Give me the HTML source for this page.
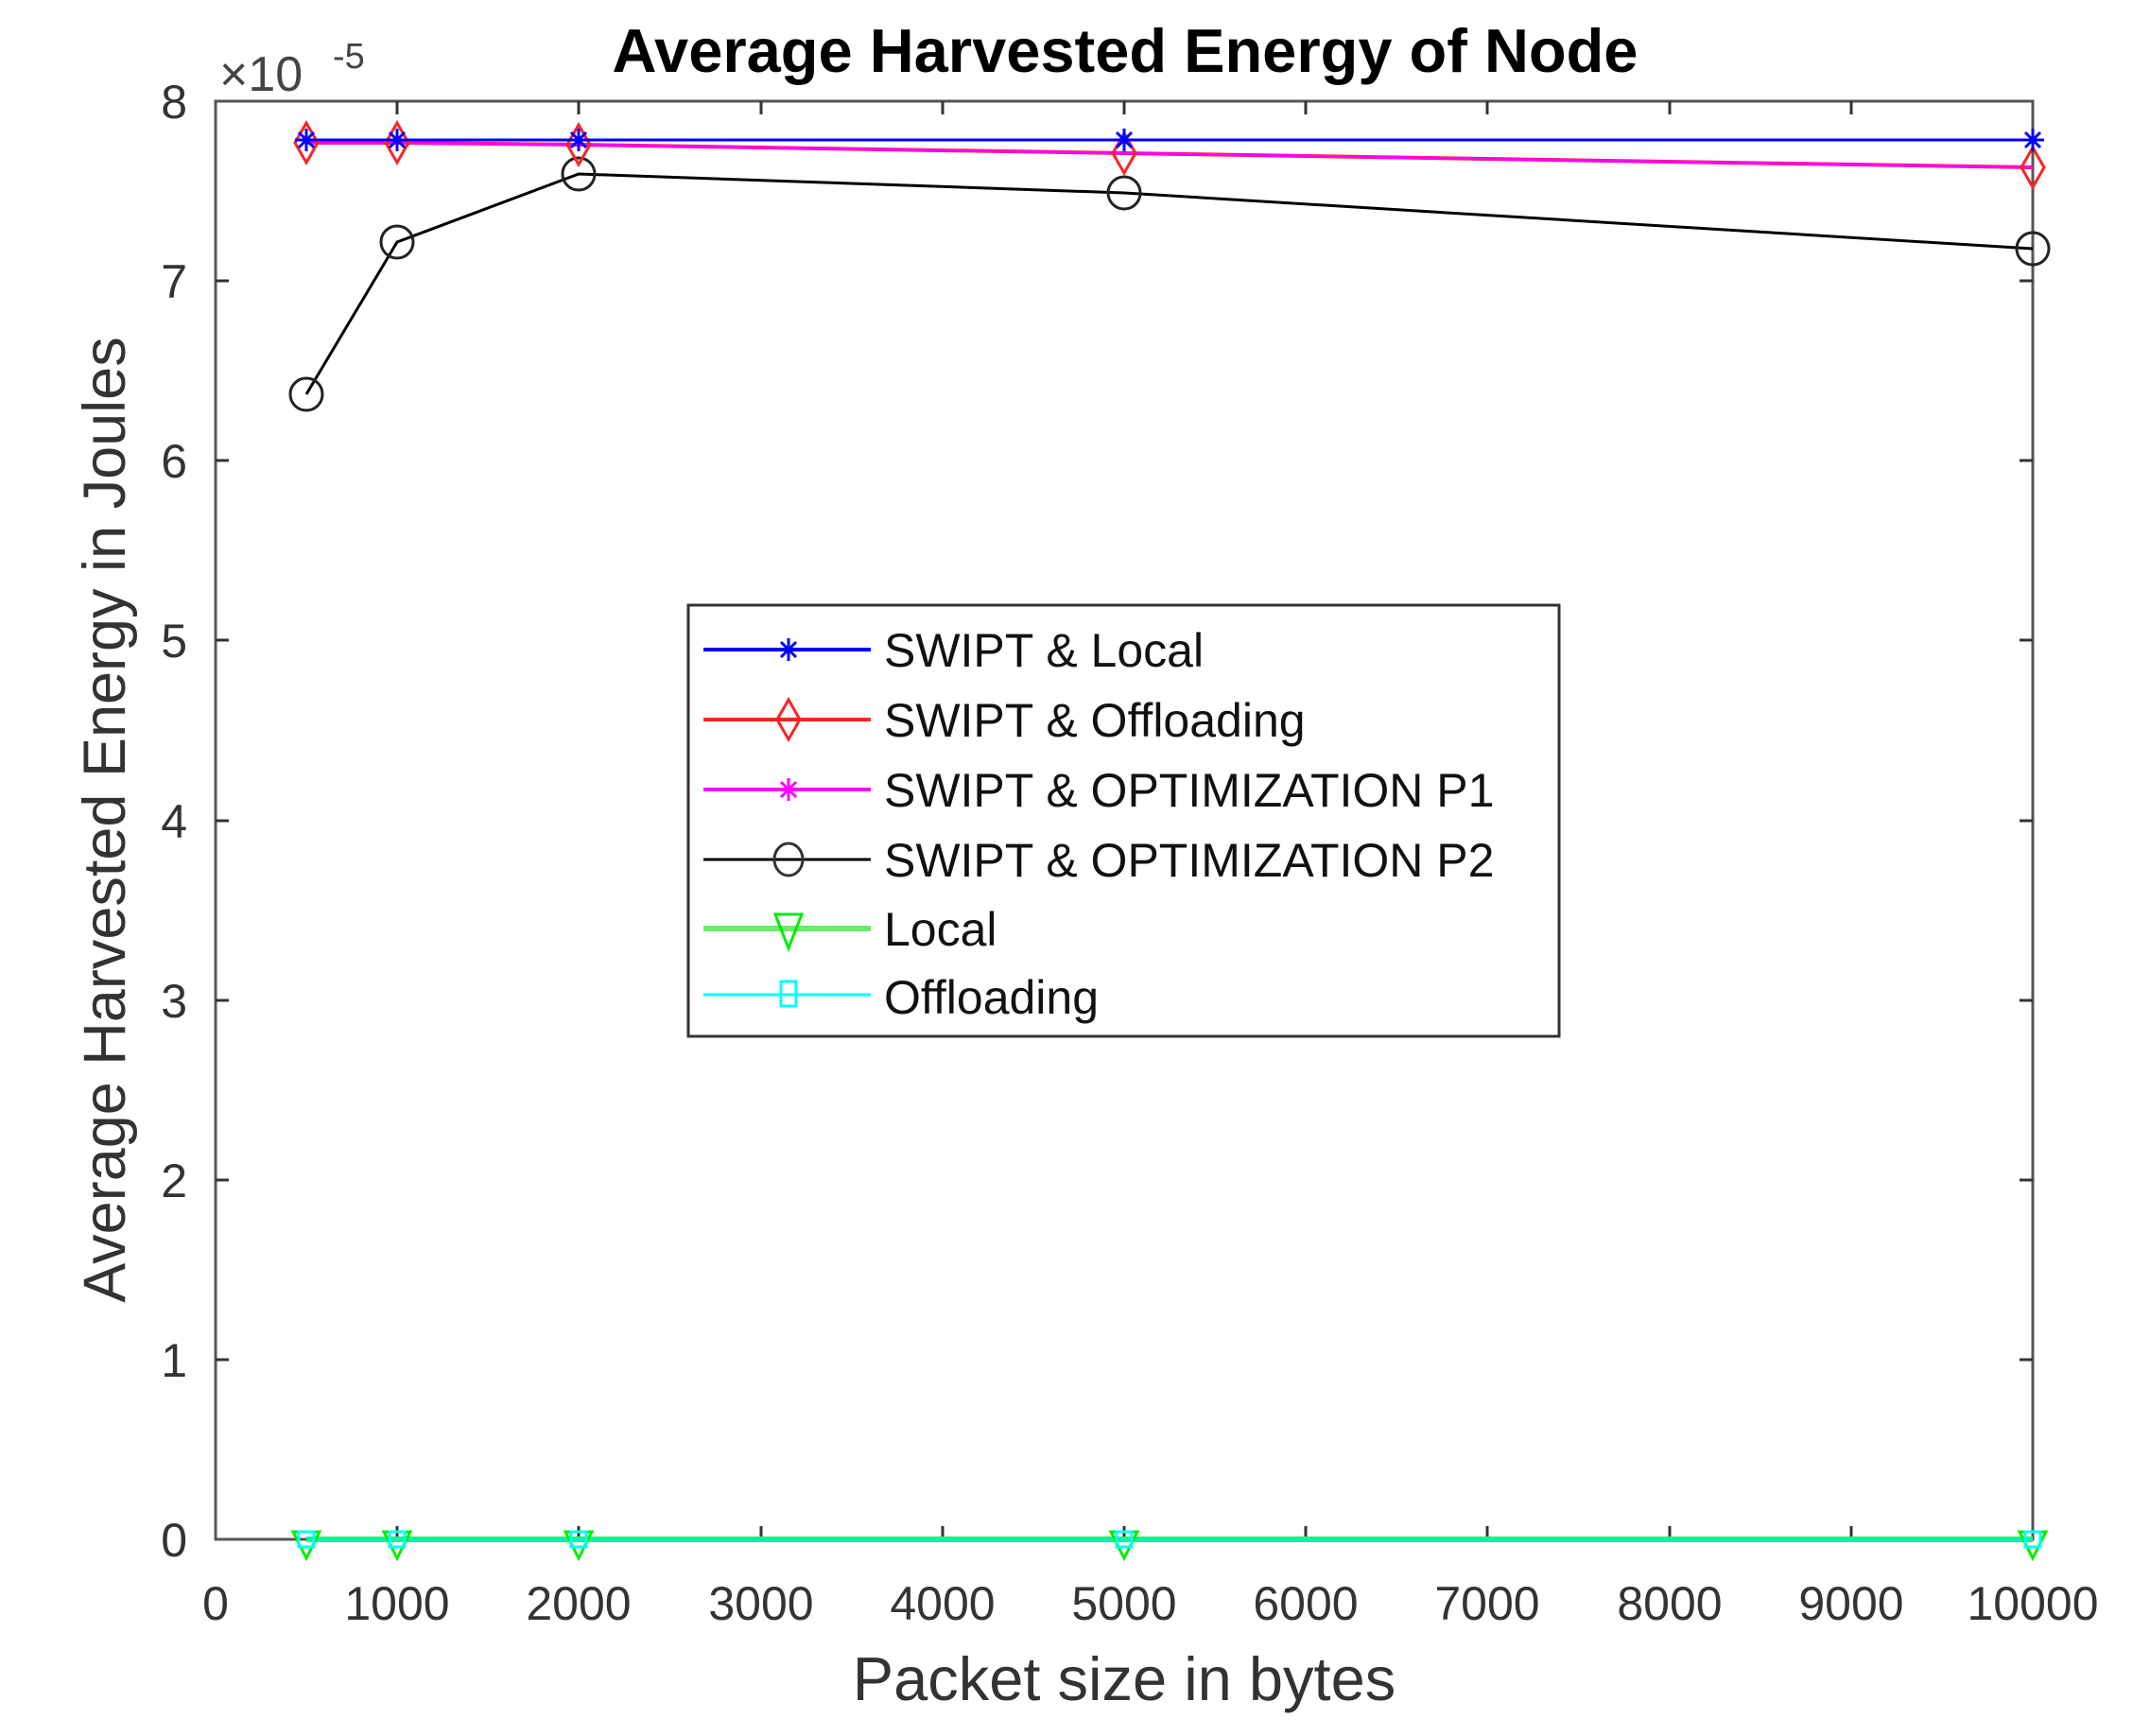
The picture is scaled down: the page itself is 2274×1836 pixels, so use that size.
<!DOCTYPE html>
<html><head><style>html,body{margin:0;padding:0;background:#fff}svg{display:block}</style></head>
<body>
<svg width="2274" height="1836" xmlns="http://www.w3.org/2000/svg" font-family="Liberation Sans, Arial, sans-serif">
<rect width="2274" height="1836" fill="#fff"/>
<text x="1190" y="76" font-size="65" font-weight="bold" text-anchor="middle" fill="#000">Average Harvested Energy of Node</text>
<text x="232" y="96" font-size="52" fill="#444">×10</text>
<text x="352" y="72" font-size="38" fill="#444">-5</text>
<rect x="228" y="107" width="1922" height="1521" fill="none" stroke="#555" stroke-width="3"/>
<g stroke="#333" stroke-width="3">
<line x1="420" y1="1628" x2="420" y2="1614"/><line x1="612" y1="1628" x2="612" y2="1614"/><line x1="805" y1="1628" x2="805" y2="1614"/><line x1="997" y1="1628" x2="997" y2="1614"/><line x1="1189" y1="1628" x2="1189" y2="1614"/><line x1="1381" y1="1628" x2="1381" y2="1614"/><line x1="1573" y1="1628" x2="1573" y2="1614"/><line x1="1766" y1="1628" x2="1766" y2="1614"/><line x1="1958" y1="1628" x2="1958" y2="1614"/>
<line x1="420" y1="107" x2="420" y2="121"/><line x1="612" y1="107" x2="612" y2="121"/><line x1="805" y1="107" x2="805" y2="121"/><line x1="997" y1="107" x2="997" y2="121"/><line x1="1189" y1="107" x2="1189" y2="121"/><line x1="1381" y1="107" x2="1381" y2="121"/><line x1="1573" y1="107" x2="1573" y2="121"/><line x1="1766" y1="107" x2="1766" y2="121"/><line x1="1958" y1="107" x2="1958" y2="121"/>
<line x1="228" y1="1438" x2="242" y2="1438"/><line x1="228" y1="1248" x2="242" y2="1248"/><line x1="228" y1="1058" x2="242" y2="1058"/><line x1="228" y1="868" x2="242" y2="868"/><line x1="228" y1="677" x2="242" y2="677"/><line x1="228" y1="487" x2="242" y2="487"/><line x1="228" y1="297" x2="242" y2="297"/>
<line x1="2150" y1="1438" x2="2136" y2="1438"/><line x1="2150" y1="1248" x2="2136" y2="1248"/><line x1="2150" y1="1058" x2="2136" y2="1058"/><line x1="2150" y1="868" x2="2136" y2="868"/><line x1="2150" y1="677" x2="2136" y2="677"/><line x1="2150" y1="487" x2="2136" y2="487"/><line x1="2150" y1="297" x2="2136" y2="297"/>
</g>
<g font-size="50" fill="#333" text-anchor="middle">
<text x="228" y="1713">0</text><text x="420" y="1713">1000</text><text x="612" y="1713">2000</text><text x="805" y="1713">3000</text><text x="997" y="1713">4000</text><text x="1189" y="1713">5000</text><text x="1381" y="1713">6000</text><text x="1573" y="1713">7000</text><text x="1766" y="1713">8000</text><text x="1958" y="1713">9000</text><text x="2150" y="1713">10000</text>
</g>
<g font-size="50" fill="#333" text-anchor="end">
<text x="198" y="1646">0</text><text x="198" y="1456">1</text><text x="198" y="1266">2</text><text x="198" y="1076">3</text><text x="198" y="886">4</text><text x="198" y="695">5</text><text x="198" y="505">6</text><text x="198" y="315">7</text><text x="198" y="125">8</text>
</g>
<text x="1189" y="1798" font-size="65" fill="#333" text-anchor="middle">Packet size in bytes</text>
<text transform="translate(132,867) rotate(-90)" font-size="63" fill="#333" text-anchor="middle">Average Harvested Energy in Joules</text>
<polyline points="324,1628 420,1628 612,1628 1189,1628 2150,1628" stroke="#33ee66" stroke-width="6" fill="none"/>
<polyline points="324,1628 420,1628 612,1628 1189,1628 2150,1628" stroke="#00eecc" stroke-width="3" fill="none"/>
<g fill="none" stroke="#00ee00" stroke-width="3">
<path d="M310,1620 L338,1620 L324,1648 Z"/><path d="M406,1620 L434,1620 L420,1648 Z"/><path d="M598,1620 L626,1620 L612,1648 Z"/><path d="M1175,1620 L1203,1620 L1189,1648 Z"/><path d="M2136,1620 L2164,1620 L2150,1648 Z"/>
</g>
<g fill="none" stroke="#00ffff" stroke-width="3">
<rect x="316" y="1620" width="16" height="16"/><rect x="412" y="1620" width="16" height="16"/><rect x="604" y="1620" width="16" height="16"/><rect x="1181" y="1620" width="16" height="16"/><rect x="2142" y="1620" width="16" height="16"/>
</g>
<polyline points="324,417 420,256 612,184 1189,204 2150,263" stroke="#000" stroke-width="3" fill="none"/>
<g fill="none" stroke="#222" stroke-width="3">
<ellipse cx="324" cy="417" rx="17" ry="17"/><ellipse cx="420" cy="256" rx="17" ry="17"/><ellipse cx="612" cy="184" rx="17" ry="17"/><ellipse cx="1189" cy="204" rx="17" ry="17"/><ellipse cx="2150" cy="263" rx="17" ry="17"/>
</g>
<polyline points="324,151 420,151 612,153 1189,162 2150,177" stroke="#ff2222" stroke-width="4" fill="none"/>
<polyline points="324,151 420,151 612,153 1189,162 2150,177" stroke="#ff00ff" stroke-width="3" fill="none"/>
<polyline points="324,148 420,148 612,148 1189,148 2150,148" stroke="#0000ff" stroke-width="3" fill="none"/>
<g fill="none" stroke="#ff2222" stroke-width="3">
<path d="M324,130 L336,151 L324,172 L312,151 Z"/><path d="M420,130 L432,151 L420,172 L408,151 Z"/><path d="M612,132 L624,153 L612,174 L600,153 Z"/><path d="M1189,141 L1201,162 L1189,183 L1177,162 Z"/><path d="M2150,156 L2162,177 L2150,198 L2138,177 Z"/>
</g>
<g stroke="#0000ff" stroke-width="3">
<path d="M312,148h24M324,136v24M316,140l16,16M332,140l-16,16"/><path d="M408,148h24M420,136v24M412,140l16,16M428,140l-16,16"/><path d="M600,148h24M612,136v24M604,140l16,16M620,140l-16,16"/><path d="M1177,148h24M1189,136v24M1181,140l16,16M1197,140l-16,16"/><path d="M2138,148h24M2150,136v24M2142,140l16,16M2158,140l-16,16"/>
</g>
<rect x="728" y="640" width="921" height="456" fill="#fff" stroke="#333" stroke-width="3"/>
<g stroke-width="4" fill="none">
<line x1="744" y1="687" x2="921" y2="687" stroke="#0000ff"/>
<path d="M822,687h24M834,675v24M826,679l16,16M842,679l-16,16" stroke="#0000ff" stroke-width="3"/>
<line x1="744" y1="761" x2="921" y2="761" stroke="#ff2222"/>
<path d="M834,740 L846,761 L834,782 L822,761 Z" stroke="#ff2222" stroke-width="3"/>
<line x1="744" y1="835" x2="921" y2="835" stroke="#ff00ff"/>
<path d="M826,827l16,16M842,827l-16,16M834,823v24" stroke="#ff00ff" stroke-width="3"/>
<line x1="744" y1="909" x2="921" y2="909" stroke="#000" stroke-width="3"/>
<ellipse cx="834" cy="909" rx="15" ry="17" stroke="#333" stroke-width="3"/>
<line x1="744" y1="982" x2="921" y2="982" stroke="#66ee66" stroke-width="6"/>
<path d="M820,967 L848,967 L834,1003 Z" stroke="#00ee00" stroke-width="3"/>
<line x1="744" y1="1052" x2="921" y2="1052" stroke="#00ffff" stroke-width="3"/>
<rect x="826" y="1038" width="16" height="26" stroke="#00ffff" stroke-width="3"/>
</g>
<g font-size="50" fill="#111">
<text x="935" y="705">SWIPT &amp; Local</text>
<text x="935" y="779">SWIPT &amp; Offloading</text>
<text x="935" y="853">SWIPT &amp; OPTIMIZATION P1</text>
<text x="935" y="927">SWIPT &amp; OPTIMIZATION P2</text>
<text x="935" y="1000">Local</text>
<text x="935" y="1072">Offloading</text>
</g>
</svg>
</body></html>
